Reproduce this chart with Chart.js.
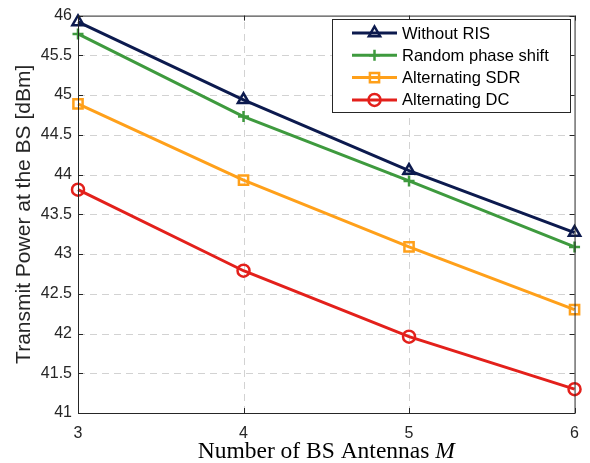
<!DOCTYPE html>
<html>
<head>
<meta charset="utf-8">
<script src="https://cdn.jsdelivr.net/npm/chart.js@4.4.1/dist/chart.umd.min.js"></script>
<style>
  html, body { margin: 0; padding: 0; background: #fff; }
  #wrap { width: 590px; height: 463px; }
</style>
</head>
<body>
<div id="wrap"><canvas id="chart" width="590" height="463"></canvas></div>
<script>
// data
const antennas = [3, 4, 5, 6];
const withoutRIS = [45.92, 44.94, 44.05, 43.27];
const randomPhase = [45.77, 44.73, 43.92, 43.09];
const altSDR = [44.89, 43.93, 43.09, 42.30];
const altDC = [43.81, 42.79, 41.96, 41.30];
const yTicks = [41, 41.5, 42, 42.5, 43, 43.5, 44, 44.5, 45, 45.5, 46];

const seriesNames = ["Without RIS", "Random phase shift", "Alternating SDR", "Alternating DC"];
const seriesColors = ["#0c1a4e", "#3e9a3e", "#ffa01a", "#e3201b"];
const seriesMarkers = ["triangle", "cross", "rect", "circle"];
const markerSizes = [6.5, 5.5, 6.5, 6];

const axisColor = "#262626";

function makeSet(i, values) {
  return {
    label: seriesNames[i],
    data: antennas.map((x, k) => ({ x: x, y: values[k] })),
    borderColor: seriesColors[i],
    backgroundColor: "rgba(0,0,0,0)",
    borderWidth: 3,
    pointStyle: seriesMarkers[i],
    pointRadius: markerSizes[i],
    pointHoverRadius: markerSizes[i],
    pointBorderWidth: 2.5,
    pointBorderColor: seriesColors[i],
    pointBackgroundColor: "rgba(0,0,0,0)",
    tension: 0,
    clip: false,
  };
}

// dashed grid, ticks inside the box, box border, legend and axis titles
const matlabLook = {
  id: "matlabLook",
  beforeDatasetsDraw(chart) {
    const ctx = chart.ctx;
    const a = chart.chartArea;
    const xs = chart.scales.x;
    const ys = chart.scales.y;
    ctx.save();
    ctx.strokeStyle = "#d2d2d2";
    ctx.lineWidth = 1;
    ctx.setLineDash([7, 5]);
    ctx.beginPath();
    antennas.slice(1, -1).forEach((v) => {
      const px = Math.round(xs.getPixelForValue(v)) + 0.5;
      ctx.moveTo(px, a.bottom);
      ctx.lineTo(px, a.top);
    });
    yTicks.slice(1, -1).forEach((v) => {
      const py = Math.round(ys.getPixelForValue(v)) + 0.5;
      ctx.moveTo(a.left, py);
      ctx.lineTo(a.right, py);
    });
    ctx.stroke();
    ctx.restore();
  },
  afterDatasetsDraw(chart) {
    const ctx = chart.ctx;
    const a = chart.chartArea;
    const xs = chart.scales.x;
    const ys = chart.scales.y;
    ctx.save();

    // box
    ctx.strokeStyle = axisColor;
    ctx.lineWidth = 1;
    ctx.strokeRect(a.left + 0.5, a.top + 0.5, a.right - a.left, a.bottom - a.top);

    // inward tick marks
    const tl = 5;
    ctx.beginPath();
    antennas.forEach((v) => {
      const px = Math.round(xs.getPixelForValue(v)) + 0.5;
      ctx.moveTo(px, a.bottom);
      ctx.lineTo(px, a.bottom - tl);
      ctx.moveTo(px, a.top);
      ctx.lineTo(px, a.top + tl);
    });
    yTicks.forEach((v) => {
      const py = Math.round(ys.getPixelForValue(v)) + 0.5;
      ctx.moveTo(a.left, py);
      ctx.lineTo(a.left + tl, py);
      ctx.moveTo(a.right, py);
      ctx.lineTo(a.right - tl, py);
    });
    ctx.stroke();

    // legend
    const lx = 332, ly = 19, lw = 238, lh = 93;
    ctx.fillStyle = "#fff";
    ctx.fillRect(lx, ly, lw, lh);
    ctx.strokeStyle = axisColor;
    ctx.strokeRect(lx + 0.5, ly + 0.5, lw, lh);
    ctx.font = "16.5px 'Liberation Sans', Arial, sans-serif";
    ctx.textBaseline = "middle";
    ctx.textAlign = "left";
    chart.data.datasets.forEach((ds, i) => {
      const ry = 33 + i * 22.3;
      ctx.strokeStyle = ds.borderColor;
      ctx.lineWidth = 3;
      ctx.beginPath();
      ctx.moveTo(352, ry);
      ctx.lineTo(397, ry);
      ctx.stroke();
      ctx.lineWidth = ds.pointBorderWidth;
      ctx.fillStyle = "rgba(0,0,0,0)";
      Chart.helpers.drawPoint(ctx, {
        pointStyle: ds.pointStyle,
        radius: ds.pointRadius,
        rotation: 0,
        borderWidth: ds.pointBorderWidth,
      }, 374.5, ry);
      ctx.fillStyle = "#000";
      ctx.fillText(ds.label, 402, ry + 1);
    });

    // y title
    ctx.fillStyle = axisColor;
    ctx.font = "21px 'Liberation Sans', Arial, sans-serif";
    ctx.textAlign = "center";
    ctx.textBaseline = "middle";
    ctx.translate(24, (a.top + a.bottom) / 2);
    ctx.rotate(-Math.PI / 2);
    ctx.fillText("Transmit Power at the BS [dBm]", 0, 0);
    ctx.setTransform(1, 0, 0, 1, 0, 0);

    // x title, with italic M
    const part1 = "Number of BS Antennas ";
    const part2 = "M";
    const f1 = "23.5px 'Liberation Serif', 'Times New Roman', serif";
    const f2 = "italic 23.5px 'Liberation Serif', 'Times New Roman', serif";
    ctx.font = f1;
    const w1 = ctx.measureText(part1).width;
    ctx.font = f2;
    const w2 = ctx.measureText(part2).width;
    const x0 = (a.left + a.right) / 2 - (w1 + w2) / 2;
    ctx.textAlign = "left";
    ctx.textBaseline = "alphabetic";
    ctx.fillStyle = "#000";
    ctx.font = f1;
    ctx.fillText(part1, x0, 458);
    ctx.font = f2;
    ctx.fillText(part2, x0 + w1, 458);

    ctx.restore();
  },
};

new Chart(document.getElementById("chart"), {
  type: "line",
  data: {
    datasets: [
      makeSet(0, withoutRIS),
      makeSet(1, randomPhase),
      makeSet(2, altSDR),
      makeSet(3, altDC),
    ],
  },
  options: {
    responsive: false,
    animation: false,
    layout: { padding: { top: 13, right: 14, left: 0, bottom: 0 } },
    plugins: {
      legend: { display: false },
      tooltip: { enabled: false },
    },
    scales: {
      x: {
        type: "linear",
        min: 3,
        max: 6,
        afterFit: (s) => { s.height = 50; },
        afterBuildTicks: (s) => { s.ticks = antennas.map((v) => ({ value: v })); },
        ticks: {
          color: axisColor,
          font: { family: "'Liberation Sans', Arial, sans-serif", size: 16 },
          padding: 11,
          maxRotation: 0,
        },
        grid: { display: false, drawTicks: false },
        border: { display: false },
      },
      y: {
        min: 41,
        max: 46,
        afterFit: (s) => { s.width = 78; },
        afterBuildTicks: (s) => { s.ticks = yTicks.map((v) => ({ value: v })); },
        ticks: {
          color: axisColor,
          font: { family: "'Liberation Sans', Arial, sans-serif", size: 16 },
          padding: 6,
          callback: (v) => String(v),
        },
        grid: { display: false, drawTicks: false },
        border: { display: false },
      },
    },
  },
  plugins: [matlabLook],
});
</script>
</body>
</html>
